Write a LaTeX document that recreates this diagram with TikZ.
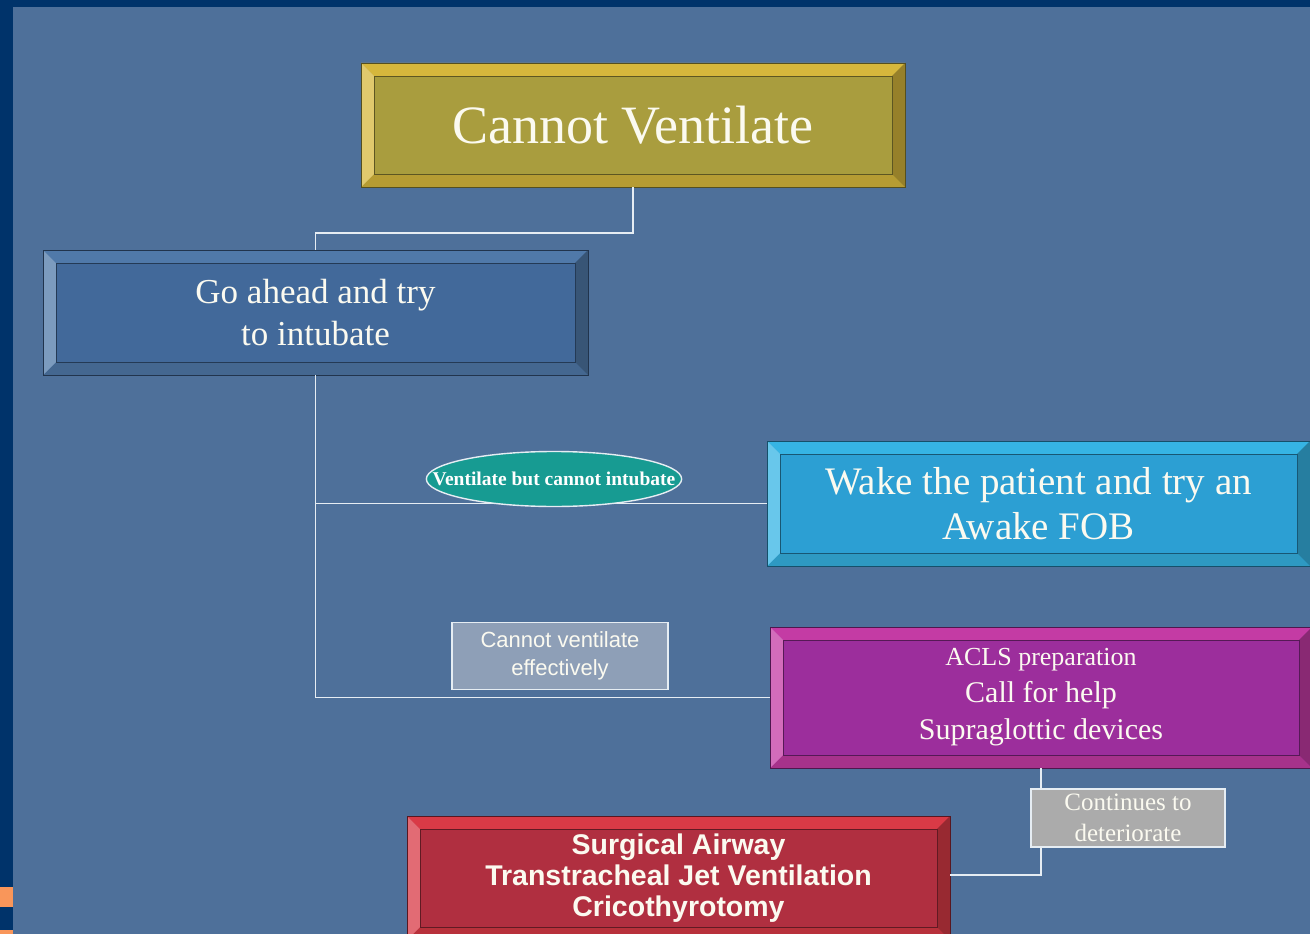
\documentclass[tikz,border=0pt]{standalone}
\usepackage{fontspec}
\setmainfont{Liberation Serif}
\setsansfont{Liberation Sans}
\usepackage{tikz}
\usetikzlibrary{positioning, calc, shapes.geometric}

\definecolor{navy}{HTML}{00336A}
\definecolor{slide}{HTML}{4E709A}
\definecolor{tab}{HTML}{F9965A}
\definecolor{linewhite}{HTML}{E6EDF3}
\definecolor{textwhite}{HTML}{FBFAF0}
\definecolor{cvface}{HTML}{A99D3E}
\definecolor{cvedge}{HTML}{D6B73C}
\definecolor{gaface}{HTML}{42699A}
\definecolor{gaedge}{HTML}{5079A9}
\definecolor{wkface}{HTML}{2C9FD3}
\definecolor{wkedge}{HTML}{36B4E4}
\definecolor{acface}{HTML}{9C2E9C}
\definecolor{acedge}{HTML}{C43BA4}
\definecolor{sgface}{HTML}{B02F40}
\definecolor{sgedge}{HTML}{D93A46}
\definecolor{ovalteal}{HTML}{179B92}
\definecolor{tagblue}{HTML}{8E9FB7}
\definecolor{taggrey}{HTML}{ABABAB}

\newcommand{\bevw}{13pt}

\tikzset{
    conn/.style = {draw=linewhite, line width=1.8pt},
}

\begin{document}
\begin{tikzpicture}[
        x=1pt, y=-1pt,
        bevel/.style 2 args={
            rectangle,
            draw=#1!50!black,
            line width=0.6pt,
            fill=#1,
            text=textwhite,
            align=center,
            inner sep=0pt,
            path picture={
                \path (path picture bounding box.north west) coordinate (bnw)
                      (path picture bounding box.north east) coordinate (bne)
                      (path picture bounding box.south west) coordinate (bsw)
                      (path picture bounding box.south east) coordinate (bse);
                \fill[#2] (bnw) -- (bne) -- ([xshift=-\bevw,yshift=-\bevw]bne) -- ([xshift=\bevw,yshift=-\bevw]bnw) -- cycle;
                \fill[#2!85!black] (bsw) -- (bse) -- ([xshift=-\bevw,yshift=\bevw]bse) -- ([xshift=\bevw,yshift=\bevw]bsw) -- cycle;
                \fill[#2!75!white] (bnw) -- (bsw) -- ([xshift=\bevw,yshift=\bevw]bsw) -- ([xshift=\bevw,yshift=-\bevw]bnw) -- cycle;
                \fill[#2!70!black] (bne) -- (bse) -- ([xshift=-\bevw,yshift=\bevw]bse) -- ([xshift=-\bevw,yshift=-\bevw]bne) -- cycle;
                \draw[#1!55!black, line width=0.6pt] ([xshift=\bevw,yshift=-\bevw]bnw) rectangle ([xshift=-\bevw,yshift=\bevw]bse);
            }
        },
        oval/.style={
            ellipse,
            draw=linewhite,
            line width=1.4pt,
            fill=ovalteal,
            text=white,
            inner xsep=-31pt,
            inner ysep=0pt,
            minimum height=55pt,
            font=\bfseries\fontsize{19.5}{21}\selectfont
        },
        tag/.style={
            rectangle,
            draw=linewhite,
            line width=1.4pt,
            text=textwhite,
            align=center,
            inner sep=0pt
        }
    ]
        \useasboundingbox (0,0) rectangle (1310,934);
        \clip (0,0) rectangle (1310,934);
        % slide
        \fill[navy] (0,0) rectangle (1310,934);
        \fill[slide] (13,7) rectangle (1310,934);
        \fill[tab] (0,887) rectangle (13,907);
        \fill[tab] (0,930) rectangle (13,934);

        \node [bevel={cvface}{cvedge}, minimum width=544pt, minimum height=124pt,
               font=\fontsize{54}{60}\selectfont] (cannot) at (633,125) {Cannot Ventilate};
        \node [bevel={gaface}{gaedge}, minimum width=545pt, minimum height=125pt,
               font=\fontsize{35}{42}\selectfont] (goahead) at (315.5,312.5) {Go ahead and try\\to intubate};
        \node [bevel={wkface}{wkedge}, minimum width=543pt, minimum height=125pt,
               font=\fontsize{39}{45}\selectfont] (wake) at (1038.5,503.5) {Wake the patient and try an\\Awake FOB};
        \node [bevel={acface}{acedge}, minimum width=542pt, minimum height=141pt,
               font=\fontsize{30}{37}\selectfont] (acls) at (1041,697.5) {{\fontsize{26}{30}\selectfont ACLS preparation}\\Call for help\\Supraglottic devices};
        \node [bevel={sgface}{sgedge}, minimum width=543pt, minimum height=124pt,
               font=\sffamily\bfseries\fontsize{28.5}{31}\selectfont] (surgical) at (678.5,878) {Surgical Airway\\Transtracheal Jet Ventilation\\Cricothyrotomy};

        \draw [conn] (cannot.south) -- ++(0,46) -| (goahead.north);
        \draw [conn] (goahead.south) |- (acls.west);
        \draw [conn] (goahead.south |- wake.west) -- (wake.west);
        \draw [conn] (acls.south) |- ($(surgical.east)+(0,-3)$);

        \node [oval] (notube) at (554,479) {Ventilate but cannot intubate};
        \node [tag, fill=tagblue, minimum width=216pt, minimum height=67pt,
               font=\sffamily\fontsize{22}{28}\selectfont] (noair) at (560,656) {Cannot ventilate\\effectively};
        \node [tag, fill=taggrey, minimum width=194pt, minimum height=58pt,
               font=\fontsize{25}{31}\selectfont] (worse) at (1128,818) {Continues to\\deteriorate};
    \end{tikzpicture}
\end{document}
